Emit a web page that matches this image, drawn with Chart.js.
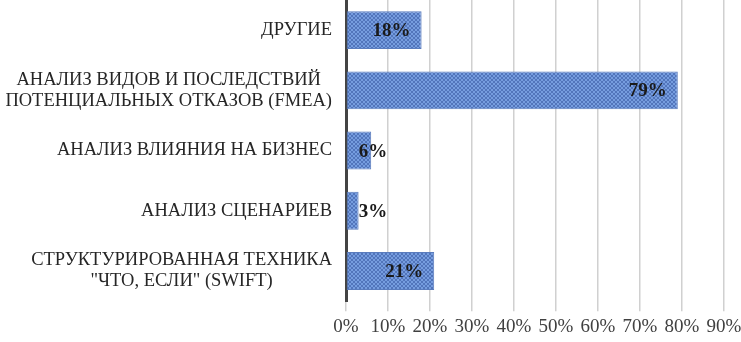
<!DOCTYPE html>
<html>
<head>
<meta charset="utf-8">
<script src="https://cdn.jsdelivr.net/npm/chart.js@4.4.0/dist/chart.umd.min.js"></script>
<style>
    html, body {margin: 0; padding: 0; background: #fff;}
    #wrap {width: 741px; height: 342px; position: relative;}
</style>
</head>
<body>
<div id="wrap"><canvas id="appChart"></canvas></div>
<script>
// DATA
const categories = [
    'ДРУГИЕ',
    ['АНАЛИЗ ВИДОВ И ПОСЛЕДСТВИЙ', 'ПОТЕНЦИАЛЬНЫХ ОТКАЗОВ (FMEA)'],
    'АНАЛИЗ ВЛИЯНИЯ НА БИЗНЕС',
    'АНАЛИЗ СЦЕНАРИЕВ',
    ['СТРУКТУРИРОВАННАЯ ТЕХНИКА', '"ЧТО, ЕСЛИ" (SWIFT)'],
];
const shares = [18, 79, 6, 3, 21];
const tickMax = 90;
const tickStep = 10;

const SERIF = '"Liberation Serif", "Times New Roman", serif';

// hatched fill like the office chart
function makePattern() {
    const c = document.createElement('canvas');
    c.width = 4;
    c.height = 4;
    const g = c.getContext('2d');
    g.fillStyle = '#769ddf';
    g.fillRect(0, 0, 4, 4);
    g.fillStyle = '#5275bb';
    for (let i = 0; i < 4; i++) {
        g.fillRect(i, i, 1, 1);
        g.fillRect(3 - i, i, 1, 1);
    }
    return g.createPattern(c, 'repeat');
}

// category names: block right aligned, lines centred inside the block
const categoryLabels = {
    id: 'categoryLabels',
    afterDraw(chart) {
        const ctx = chart.ctx;
        const yScale = chart.scales.y;
        const right = yScale.right - 14;
        const lineH = 21;
        ctx.save();
        ctx.font = '18.5px ' + SERIF;
        ctx.fillStyle = '#262626';
        ctx.textAlign = 'center';
        ctx.textBaseline = 'middle';
        categories.forEach((cat, i) => {
            const lines = Array.isArray(cat) ? cat : [cat];
            const maxW = Math.max(...lines.map((l) => ctx.measureText(l).width));
            const cx = right - maxW / 2;
            const yc = yScale.getPixelForTick(i);
            const y0 = yc - (lines.length - 1) * lineH / 2;
            lines.forEach((l, k) => ctx.fillText(l, cx, y0 + k * lineH));
        });
        ctx.restore();
    }
};

// value labels near the end of each bar
const valueLabels = {
    id: 'valueLabels',
    afterDatasetsDraw(chart) {
        const ctx = chart.ctx;
        const meta = chart.getDatasetMeta(0);
        ctx.save();
        ctx.font = 'bold 19px ' + SERIF;
        ctx.fillStyle = '#1a1a1a';
        ctx.textBaseline = 'middle';
        ctx.textAlign = 'right';
        meta.data.forEach((bar, i) => {
            const txt = shares[i] + '%';
            const w = ctx.measureText(txt).width;
            const x = Math.max(bar.x - 11, bar.base + 12 + w);
            ctx.fillText(txt, x, bar.y + 1);
        });
        ctx.restore();
    }
};

const ctx = document.getElementById('appChart').getContext('2d');
new Chart(ctx, {
    type: 'bar',
    data: {
        labels: categories,
        datasets: [{
            data: shares,
            backgroundColor: makePattern(),
            borderColor: '#5a7cbd',
            borderWidth: 1,
            borderSkipped: false,
            barPercentage: 0.7,
            categoryPercentage: 0.9,
        }]
    },
    options: {
        indexAxis: 'y',
        responsive: true,
        maintainAspectRatio: false,
        animation: false,
        devicePixelRatio: 1,
        layout: {padding: {top: 0, right: 17, bottom: 0, left: 0}},
        plugins: {
            legend: {display: false},
            tooltip: {enabled: false},
        },
        scales: {
            x: {
                min: 0,
                max: tickMax,
                ticks: {
                    stepSize: tickStep,
                    callback: (v) => v + '%',
                    color: '#404040',
                    font: {family: SERIF, size: 19},
                    padding: 4,
                    maxRotation: 0,
                },
                grid: {
                    color: '#d0d0d0',
                    lineWidth: 1.5,
                    drawTicks: true,
                    tickLength: 10,
                },
                border: {display: false},
                afterFit: (scale) => { scale.paddingRight = 0; scale.paddingLeft = 0; },
            },
            y: {
                ticks: {display: false},
                grid: {display: false, tickLength: 0},
                border: {display: true, color: '#444444', width: 3},
                afterFit: (scale) => { scale.width = 346; },
            }
        }
    },
    plugins: [valueLabels, categoryLabels],
});
</script>
</body>
</html>
